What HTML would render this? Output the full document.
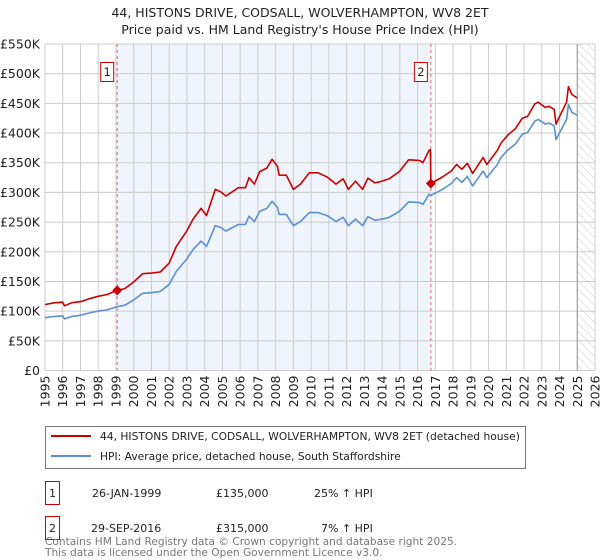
<!DOCTYPE html>
<html><head><meta charset="utf-8"><style>
body{margin:0;background:#fff;font-family:"Liberation Sans","DejaVu Sans",sans-serif;}
#wrap{position:relative;width:600px;height:560px;overflow:hidden;}
svg text{font-family:"DejaVu Sans","Liberation Sans",sans-serif;}
</style></head><body><div id="wrap">
<svg id="chart" width="600" height="560">
<defs><pattern id="hatch" width="6" height="6" patternUnits="userSpaceOnUse" patternTransform="rotate(-45)"><line x1="0" y1="0" x2="0" y2="6" stroke="#ccc" stroke-width="1"/></pattern></defs>
<text x="300" y="17" text-anchor="middle" font-size="12.5" fill="#222">44, HISTONS DRIVE, CODSALL, WOLVERHAMPTON, WV8 2ET</text>
<text x="300" y="34" text-anchor="middle" font-size="12.5" fill="#222">Price paid vs. HM Land Registry's House Price Index (HPI)</text>
<g id="grid"></g><g id="marks"></g>
<rect x="45.5" y="426.5" width="480" height="42" fill="#fff" stroke="#777"/>
<line x1="51" y1="436" x2="91" y2="436" stroke="#cc0000" stroke-width="2"/>
<text x="100" y="440" font-size="10.7" fill="#222">44, HISTONS DRIVE, CODSALL, WOLVERHAMPTON, WV8 2ET (detached house)</text>
<line x1="51" y1="456" x2="91" y2="456" stroke="#5b8fd4" stroke-width="2"/>
<text x="100" y="460" font-size="10.7" fill="#222">HPI: Average price, detached house, South Staffordshire</text>
<g font-size="11" fill="#222">
<rect x="45.5" y="481.5" width="14" height="23" fill="none" stroke="#cc0000"/>
<text x="52.5" y="497" text-anchor="middle">1</text>
<text x="92" y="497">26-JAN-1999</text>
<text x="216" y="497">£135,000</text>
<text x="314" y="497">25% ↑ HPI</text>
<rect x="45.5" y="516.5" width="14" height="23" fill="none" stroke="#cc0000"/>
<text x="52.5" y="532" text-anchor="middle">2</text>
<text x="91" y="532">29-SEP-2016</text>
<text x="216" y="532">£315,000</text>
<text x="321" y="532">7% ↑ HPI</text>
</g>
<text x="45" y="545" font-size="10.6" fill="#777">Contains HM Land Registry data © Crown copyright and database right 2025.</text>
<text x="45" y="556" font-size="10.6" fill="#777">This data is licensed under the Open Government Licence v3.0.</text>
</svg>
<script>
const yTicks=[0,50000,100000,150000,200000,250000,300000,350000,400000,450000,500000,550000];
const yTickLabels=["£0","£50K","£100K","£150K","£200K","£250K","£300K","£350K","£400K","£450K","£500K","£550K"];
const xYears=[1995,1996,1997,1998,1999,2000,2001,2002,2003,2004,2005,2006,2007,2008,2009,2010,2011,2012,2013,2014,2015,2016,2017,2018,2019,2020,2021,2022,2023,2024,2025,2026];
const hpiYears=[1995.0,1995.5,1996.0,1996.1,1996.5,1997.0,1997.5,1998.0,1998.5,1999.0,1999.5,2000.0,2000.5,2001.0,2001.5,2002.0,2002.4,2002.97,2003.35,2003.8,2004.1,2004.6,2004.9,2005.2,2005.9,2006.3,2006.5,2006.8,2007.1,2007.5,2007.8,2008.1,2008.2,2008.6,2009.0,2009.4,2009.9,2010.4,2010.9,2011.4,2011.8,2012.1,2012.5,2012.9,2013.2,2013.6,2014.0,2014.4,2014.97,2015.5,2016.1,2016.3,2016.65,2016.75,2017.4,2017.9,2018.2,2018.5,2018.8,2019.1,2019.7,2019.9,2020.5,2020.7,2021.1,2021.5,2021.9,2022.2,2022.6,2022.8,2023.2,2023.4,2023.7,2023.8,2024.1,2024.4,2024.5,2024.7,2025.0];
const hpiValues=[89,91,92,87,91,93,97,100,102,107,110,119,130,131,133,145,167,187,204,218,209,244,241,235,246,246,260,251,268,273,285,275,263,263,244,251,266,266,261,251,258,244,255,244,259,253,255,258,268,284,283,280,297,295,305,315,325,317,327,311,336,325,347,359,372,381,398,401,420,423,415,417,412,389,406,423,448,435,430];
const propYears=[1995.0,1995.5,1996.0,1996.1,1996.5,1997.0,1997.5,1998.0,1998.5,1999.07,1999.5,2000.0,2000.5,2001.0,2001.5,2002.0,2002.4,2002.97,2003.35,2003.8,2004.1,2004.6,2004.9,2005.2,2005.9,2006.3,2006.5,2006.8,2007.1,2007.5,2007.8,2008.1,2008.2,2008.6,2009.0,2009.4,2009.9,2010.4,2010.9,2011.4,2011.8,2012.1,2012.5,2012.9,2013.2,2013.6,2014.0,2014.4,2014.97,2015.5,2016.1,2016.3,2016.65,2016.72,2016.75,2017.4,2017.9,2018.2,2018.5,2018.8,2019.1,2019.7,2019.9,2020.5,2020.7,2021.1,2021.5,2021.9,2022.2,2022.6,2022.8,2023.2,2023.4,2023.7,2023.8,2024.1,2024.4,2024.5,2024.7,2025.0];
const propValues=[111,114,115,109,114,116,121,125,128,135,138,149,163,164,166,181,209,234,255,273,261,305,301,294,308,308,325,314,335,341,356,344,329,329,305,314,333,333,326,314,323,305,319,305,324,316,319,323,335,355,354,350,371,372,315,326,336,347,339,349,332,359,347,371,383,397,407,425,428,449,452,443,445,440,415,434,452,478,465,459];
const saleYears=[1999.07,2016.75];
const salePrices=[135,315];
const saleLabels=["1","2"];
const dataEndYear=2025.0;

const X0=45,X1=595,Y0=370.5,Y1=44;
const xs=y=>X0+(y-1995)/(2026-1995)*(X1-X0);
const ys=v=>Y0-v/550000*(Y0-Y1);
const ysK=v=>ys(v*1000);
const NS="http://www.w3.org/2000/svg";
const grid=document.getElementById('grid'),marks=document.getElementById('marks');
function mk(tag,attrs,parent){const e=document.createElementNS(NS,tag);for(const k in attrs)e.setAttribute(k,attrs[k]);parent.appendChild(e);return e;}

let e=mk('rect',{x:xs(saleYears[0]),y:Y1,width:xs(saleYears[1])-xs(saleYears[0]),height:Y0-Y1,fill:'#f0f4fd'},grid);


e=mk('rect',{x:xs(dataEndYear),y:Y1,width:X1-xs(dataEndYear),height:Y0-Y1,fill:'url(#hatch)'},grid);


yTicks.forEach((t,i)=>{
  let l=mk('line',{x1:X0,x2:X1,y1:ys(t),y2:ys(t),stroke:'#ccc','stroke-width':1},grid);
  
  
  let tx=mk('text',{x:40,y:ys(t)+4.5,'text-anchor':'end','font-size':12.5,fill:'#222'},grid);
  tx.textContent=yTickLabels[i];
  
  
});
xYears.forEach(yr=>{
  let l=mk('line',{x1:xs(yr),x2:xs(yr),y1:Y1,y2:Y0,stroke:'#ccc','stroke-width':1},grid);
  
  
  let tx=mk('text',{x:0,y:0,'text-anchor':'end','font-size':12.5,fill:'#222',transform:`translate(${xs(yr)+4.5},${Y0+5}) rotate(-90)`},grid);
  tx.textContent=yr;
  
  
});
e=mk('line',{x1:xs(dataEndYear),x2:xs(dataEndYear),y1:Y1,y2:Y0,stroke:'#999','stroke-width':1},grid);



saleYears.forEach((sy,i)=>{
  let l=mk('line',{x1:xs(sy),x2:xs(sy),y1:Y1,y2:Y0,stroke:'#e06666','stroke-width':1,'stroke-dasharray':'3,3'},marks);
  
  
  let r=mk('rect',{x:xs(sy)-16.5,y:62.5,width:13,height:19,fill:'#fff',stroke:'#cc0000'},marks);
  
  
  let t=mk('text',{x:xs(sy)-10,y:76,'text-anchor':'middle','font-size':11.5,fill:'#222'},marks);
  t.textContent=saleLabels[i];
  
  
});
function pathOf(xa,va){return xa.map((y,i)=>(i?'L':'M')+xs(y).toFixed(1)+','+ysK(va[i]).toFixed(1)).join('');}
e=mk('path',{d:pathOf(hpiYears,hpiValues),fill:'none',stroke:'#5b8fd4','stroke-width':1.6,'stroke-linejoin':'round'},marks);


e=mk('path',{d:pathOf(propYears,propValues),fill:'none',stroke:'#cc0000','stroke-width':1.6,'stroke-linejoin':'round'},marks);


saleYears.forEach((sy,i)=>{
  const cx=xs(sy),cy=ysK(salePrices[i]);
  let d=mk('path',{d:`M${cx},${cy-5}L${cx+5},${cy}L${cx},${cy+5}L${cx-5},${cy}Z`,fill:'#cc0000'},marks);
  
  
});
</script>
</div></body></html>
